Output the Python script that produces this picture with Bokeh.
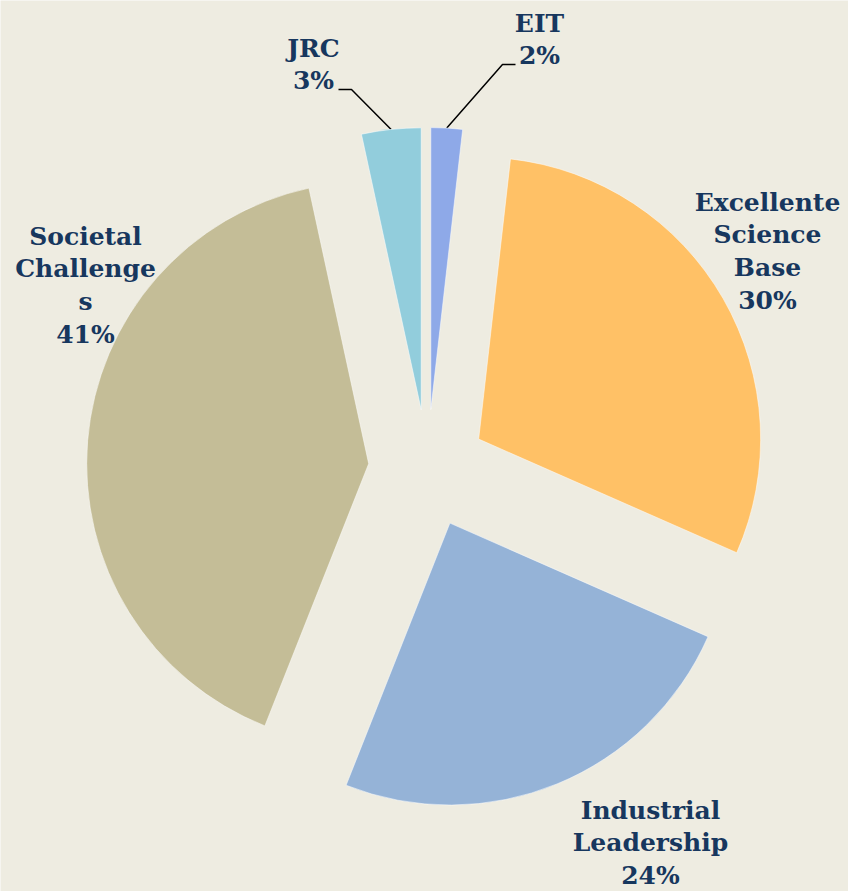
import math
from bokeh.plotting import figure
from bokeh.models import Range1d, ColumnDataSource
from bokeh.core.properties import value
from bokeh.embed import file_html
from bokeh.resources import INLINE

# ---- data ----
categories = ["EIT", "Excellente Science Base", "Industrial Leadership", "Societal Challenges", "JRC"]
shares = [1.8, 29.8, 24.4, 40.6, 3.4]
label_lines = [["EIT"], ["Excellente", "Science", "Base"], ["Industrial", "Leadership"],
               ["Societal", "Challenge", "s"], ["JRC"]]
colors = ["#8EA9E8", "#FFC166", "#95B3D7", "#C4BD97", "#92CDDC"]

# ---- layout / style ----
BG = "#EEECE1"
TXT = "#17375E"
W, H = 848, 891
FONT_PX = 25
LINE_STEP = 32.8
BASE_OFF = -0.5   # cap centre -> rendering y offset (empirical)


def Y(sy):
    return H - sy


CX, CY = 427, Y(468)
R = 282
EXPLODE = 59

# label anchors: (x centre, cap-centre y of first line) in screen px
label_anchor = [(539, 23), (767, 202), (650, 810), (85, 236), (313, 48)]
# leader elbows for small slices: index -> (elbow, end)
leaders = {0: ((502, 64), (515, 64)), 4: ((351, 89), (338, 89))}

p = figure(width=W, height=H, x_range=Range1d(0, W), y_range=Range1d(0, H),
           output_backend="svg", toolbar_location=None, min_border=0,
           background_fill_color=BG, border_fill_color=BG, outline_line_color=None,
           x_axis_location=None, y_axis_location=None)
p.grid.visible = False

total = sum(shares)
wx, wy, ws, we, wc = [], [], [], [], []
tx, ty, tt = [], [], []
cum = 0.0
for i, v in enumerate(shares):
    s = cum / total * 360.0
    e = (cum + v) / total * 360.0
    cum += v
    m = math.radians((s + e) / 2)
    ox = CX + EXPLODE * math.sin(m)
    oy = CY + EXPLODE * math.cos(m)
    wx.append(ox); wy.append(oy)
    ws.append(90 - e); we.append(90 - s); wc.append(colors[i])
    if i in leaders:
        (ex, ey), (fx, fy) = leaders[i]
        sx = ox + R * math.sin(m)
        sy = oy + R * math.cos(m)
        p.line([sx, ex, fx], [sy, Y(ey), Y(fy)], line_color="black", line_width=1.5)
    lines = label_lines[i] + [f"{round(v)}%"]
    ax, ay = label_anchor[i]
    for k, t in enumerate(lines):
        tx.append(ax)
        ty.append(Y(ay + k * LINE_STEP + BASE_OFF))
        tt.append(t)

src = ColumnDataSource(dict(x=wx, y=wy, s=ws, e=we, c=wc))
p.wedge(x="x", y="y", radius=R, start_angle="s", end_angle="e", start_angle_units="deg",
        end_angle_units="deg", fill_color="c", line_color="#FFFFFF", line_alpha=0.5,
        line_width=1, source=src)

tsrc = ColumnDataSource(dict(x=tx, y=ty, t=tt))
p.text(x="x", y="y", text="t", source=tsrc, text_font=value("DejaVu Serif"),
       text_font_style="bold", text_font_size=f"{FONT_PX}px", text_color=TXT,
       text_align="center", text_baseline="alphabetic")

open("out.html", "w").write(file_html(p, INLINE))
